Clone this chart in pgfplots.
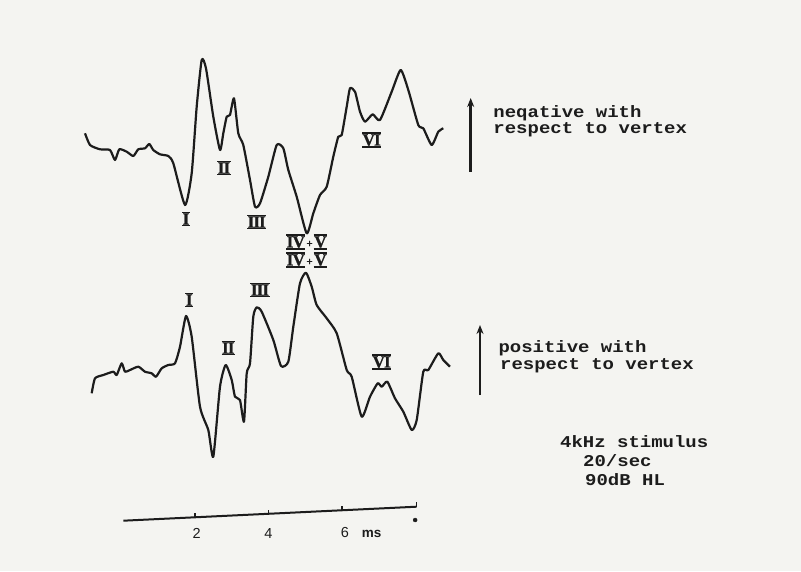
\documentclass[border=0pt]{standalone}
\usepackage{pgfplots}
\pgfplotsset{compat=1.18}
\usetikzlibrary{arrows.meta}
\usepackage{fontspec}
\setmainfont{Liberation Serif}
\newfontfamily\tw[FakeStretch=1.15]{Liberation Mono}
\newfontfamily\sff{Liberation Sans}
\newfontfamily\rnf[FakeBold=1.2]{Liberation Serif}
\definecolor{bg}{RGB}{244,244,241}
\definecolor{ink}{RGB}{28,28,28}
% Roman numeral with a bar above and below, as in the typed figure
\newcommand{\rb}[1]{\vbox{\hrule height 1.7pt\kern0.2pt\hbox{\kern0.6pt\rnf\bfseries\fontsize{17}{17}\selectfont #1\kern0.6pt}\kern0.2pt\hrule height 1.7pt}}
\newcommand{\Ia}{I}
\newcommand{\IIa}{I\kern-0.9pt I}
\newcommand{\IIIa}{I\kern-0.9pt I\kern-0.9pt I}
\newcommand{\rn}[1]{#1}
\newcommand{\pl}{\raisebox{2.5pt}{\rnf\bfseries\fontsize{11}{11}\selectfont +}}
\begin{document}
\begin{tikzpicture}
\fill[bg] (0,0) rectangle (801pt,571pt);
\begin{axis}[at={(0,0)},anchor=south west,
  scale only axis, width=801pt, height=571pt,
  xmin=-3.3061, xmax=18.4898, ymin=0, ymax=571, y dir=reverse,
  hide axis, clip=false]
% top trace (negative up)
\addplot[ink, line width=2.2pt, line join=round, smooth, tension=0.35] coordinates {
(-0.993,133.3) (-0.857,145) (-0.585,149.3) (-0.313,150) (-0.177,160) (-0.060,149.3)
(0.141,151.7) (0.321,156) (0.457,149.3) (0.639,148.3) (0.756,144) (0.865,150)
(1.048,154.3) (1.273,156) (1.410,163.3) (1.728,205) (1.910,173.3) (2.046,106.7)
(2.182,60) (2.299,68.3) (2.498,116.7) (2.680,150) (2.770,133.3) (2.863,116.7)
(2.952,115) (3.061,98.3) (3.178,133.3) (3.314,145) (3.497,180) (3.633,206.7)
(3.769,203.3) (3.995,176.7) (4.223,145) (4.403,148.3) (4.539,170) (4.767,196.7)
(5.039,233.3) (5.219,213.3) (5.401,195) (5.584,186.7) (5.763,156.7) (5.899,136.7)
(5.992,135) (6.128,106.7) (6.218,88.3) (6.354,91.7) (6.490,111.7) (6.626,121.7)
(6.835,114.3) (7.034,120) (7.352,91.7) (7.597,70) (7.804,90) (8.076,125)
(8.212,128.3) (8.441,145) (8.620,131.7) (8.756,128.3)};
% bottom trace (positive up)
\addplot[ink, line width=2.2pt, line join=round, smooth, tension=0.35] coordinates {
(-0.811,393.3) (-0.721,378.3) (-0.495,375) (-0.223,371.7) (-0.131,375) (0.005,363.3)
(0.095,371.7) (0.231,370) (0.457,366.7) (0.639,371.7) (0.822,373.3) (0.939,376.7)
(1.094,368.3) (1.273,365) (1.456,363.3) (1.592,346.7) (1.755,316) (1.910,336.7)
(2.136,406.7) (2.362,430) (2.498,456.7) (2.680,386.7) (2.835,365) (2.999,380)
(3.088,396.7) (3.224,400) (3.333,421.7) (3.407,373.3) (3.497,363.3) (3.586,316.7)
(3.679,307.3) (3.815,311.7) (4.131,340) (4.340,366) (4.539,361.7) (4.675,326.7)
(4.857,283.3) (5.020,272.7) (5.175,286.7) (5.311,305) (5.584,318.3) (5.856,333.3)
(6.128,370) (6.264,376.7) (6.536,416.7) (6.762,396.7) (6.971,383.3) (7.080,386.7)
(7.233,381.7) (7.442,398.3) (7.668,411.7) (7.897,430) (8.033,420) (8.212,371.7)
(8.348,370) (8.620,353.3) (8.756,360) (8.939,366.7)};
% time scale bar
\addplot[ink, line width=2pt] coordinates {(0.05,520.7) (8.03,506.7)};
\addplot[ink, line width=1.6pt] coordinates {(2,517.3) (2,513)};
\addplot[ink, line width=1.6pt] coordinates {(4,513.8) (4,509.5)};
\addplot[ink, line width=1.6pt] coordinates {(6,510.3) (6,506)};
\addplot[ink, line width=1.6pt] coordinates {(8.03,506.7) (8.03,502)};
\addplot[ink, only marks, mark=*, mark size=2pt] coordinates {(7.99,520)};
\node[ink, anchor=base, inner sep=0, font=\sff\fontsize{14.5}{14}\selectfont] at (2.046,538) {2};
\node[ink, anchor=base, inner sep=0, font=\sff\fontsize{14.5}{14}\selectfont] at (3.995,538) {4};
\node[ink, anchor=base, inner sep=0, font=\sff\fontsize{14.5}{14}\selectfont] at (6.082,537) {6};
\node[ink, anchor=base, inner sep=0, font=\sff\bfseries\fontsize{13.5}{13}\selectfont] at (6.808,537) {ms};
% peak labels, top trace
\node[ink, inner sep=0] at (1.755,219) {\rb{\Ia}};
\node[ink, inner sep=0] at (2.789,168) {\rb{\IIa}};
\node[ink, inner sep=0] at (3.679,222) {\rb{\IIIa}};
\node[ink, inner sep=0] at (5.039,242) {\rb{I\kern-0.8pt V}\kern1pt\pl\kern1pt\rb{V}};
\node[ink, inner sep=0] at (6.808,140) {\rb{V\kern-0.8pt I}};
% peak labels, bottom trace
\node[ink, inner sep=0] at (1.845,300) {\rb{\Ia}};
\node[ink, inner sep=0] at (2.906,348) {\rb{\IIa}};
\node[ink, inner sep=0] at (3.769,290) {\rb{\IIIa}};
\node[ink, inner sep=0] at (5.039,260) {\rb{I\kern-0.8pt V}\kern1pt\pl\kern1pt\rb{V}};
\node[ink, inner sep=0] at (7.080,362) {\rb{V\kern-0.8pt I}};
% polarity arrows and notes
\draw[ink, line width=2.6pt, -{Stealth[length=9pt,width=7pt]}] (9.502,171.7) -- (9.502,98);
\draw[ink, line width=2.6pt, -{Stealth[length=9pt,width=7pt]}] (9.755,395) -- (9.755,325);
\tikzset{tw/.style={ink, anchor=base west, inner sep=0, font=\tw\bfseries\fontsize{16.5}{17}\selectfont}}
\node[tw] at (10.116,117) {neqative with};
\node[tw] at (10.116,133) {respect to vertex};
\node[tw] at (10.253,352) {positive with};
\node[tw] at (10.299,369) {respect to vertex};
\node[tw] at (11.932,447) {4kHz stimulus};
\node[tw] at (12.558,466) {20/sec};
\node[tw] at (12.612,485) {90dB HL};
\end{axis}
\end{tikzpicture}
\end{document}
